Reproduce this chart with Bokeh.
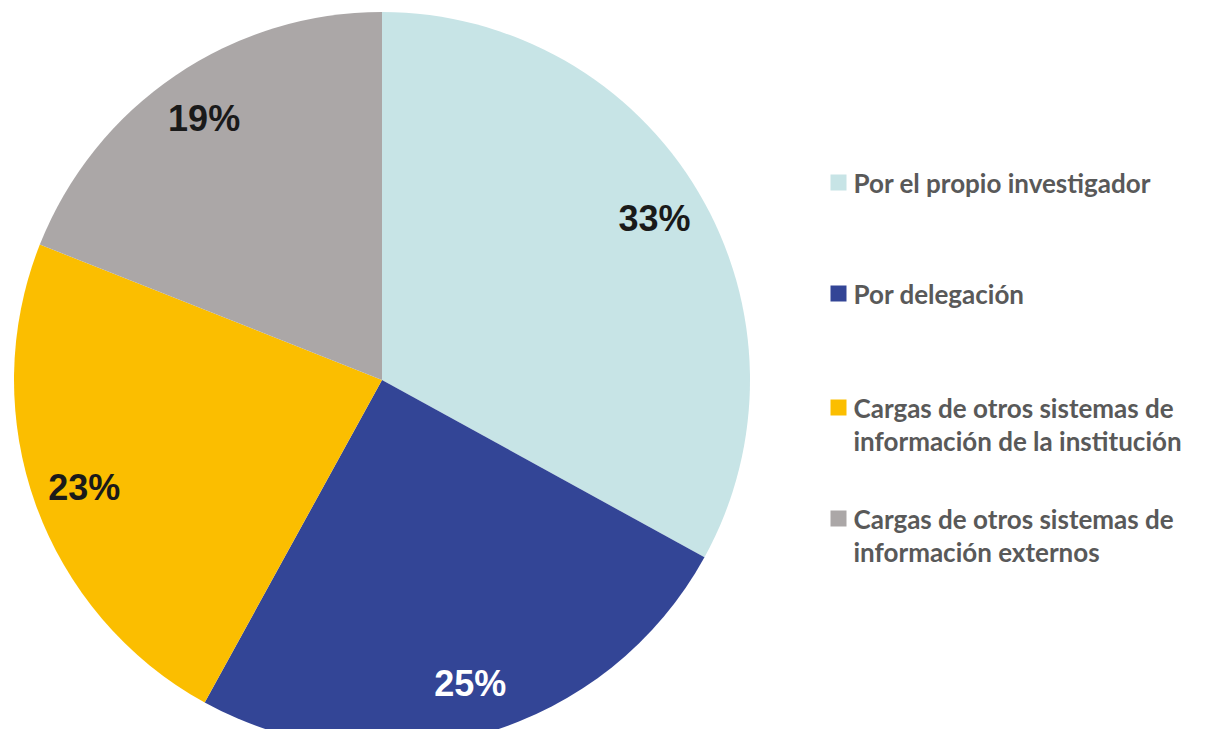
import math
from bokeh.plotting import figure
from bokeh.models import Range1d, ColumnDataSource
from bokeh.core.properties import value
from bokeh.embed import file_html
from bokeh.resources import INLINE

categories = ["Por el propio investigador", "Por delegación",
              "Cargas de otros sistemas de\ninformación de la institución",
              "Cargas de otros sistemas de\ninformación externos"]
values = [33, 25, 23, 19]
labels = ["33%", "25%", "23%", "19%"]
colors = ["#C7E4E6", "#334596", "#FBBE00", "#ABA7A7"]
label_colors = ["#1A1A1A", "#FFFFFF", "#1A1A1A", "#1A1A1A"]

W, H = 1203, 729
p = figure(width=W, height=H, output_backend="svg", toolbar_location=None,
           x_range=Range1d(0, W), y_range=Range1d(0, H), min_border=0,
           outline_line_color=None, background_fill_color="white")
p.axis.visible = False
p.grid.visible = False

cx, cy, R = 381.5, 349.5, 368
total = sum(values)
starts, ends, lx, ly = [], [], [], []
cum = 0
for v in values:
    a0 = math.pi / 2 - 2 * math.pi * cum / total
    a1 = math.pi / 2 - 2 * math.pi * (cum + v) / total
    starts.append(a0)
    ends.append(a1)
    mid = (a0 + a1) / 2
    lx.append(cx + 0.86 * R * math.cos(mid))
    ly.append(cy + 0.86 * R * math.sin(mid))
    cum += v

src = ColumnDataSource(dict(start=starts, end=ends, color=colors, lx=lx, ly=ly,
                            label=labels, lcolor=label_colors))
p.wedge(x=cx, y=cy, radius=R, start_angle="start", end_angle="end",
        direction="clock", fill_color="color", line_color=None, source=src)
p.text(x="lx", y="ly", text="label", text_color="lcolor", source=src,
       text_font=value("Liberation Sans"), text_font_style="bold",
       text_font_size="36px", text_align="center", text_baseline="middle")

# legend
leg_y = [547, 436, 322, 211]
sq_x = 838
txt_x = 853
leg_src = ColumnDataSource(dict(x=[sq_x] * 4, y=leg_y, color=colors))
p.rect(x="x", y="y", width=16, height=16, fill_color="color", line_color=None,
       source=leg_src)
tx, ty, tt = [], [], []
for cat, y in zip(categories, leg_y):
    lines = cat.split("\n")
    for i, ln in enumerate(lines):
        tx.append(txt_x)
        ty.append(y - 33 * i)
        tt.append(ln)
p.text(x=tx, y=ty, text=tt, text_color="#595959", text_font=value("Lato"),
       text_font_style="bold", text_font_size="26px", text_align="left",
       text_baseline="middle")

open("out.html", "w").write(file_html(p, INLINE))
